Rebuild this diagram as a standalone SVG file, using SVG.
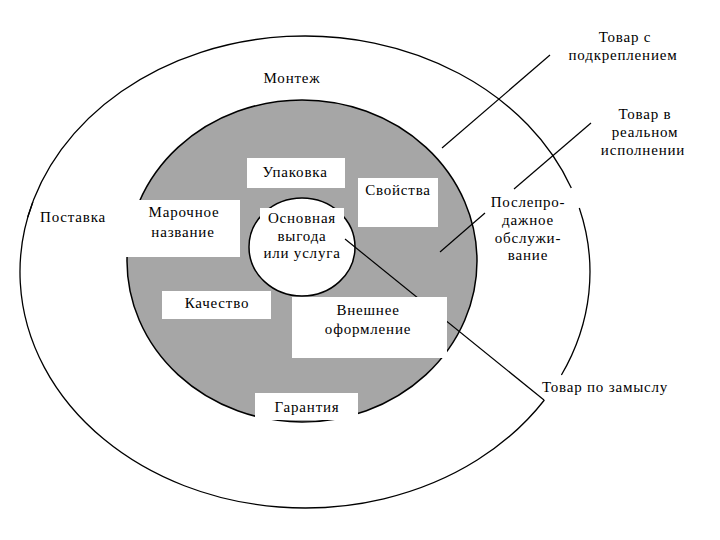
<svg xmlns="http://www.w3.org/2000/svg" width="720" height="540" viewBox="0 0 720 540">
<style>
text{font-family:"Liberation Serif","Times New Roman",serif;font-size:15px;letter-spacing:0.8px;fill:#000;text-anchor:middle}
.ring{fill:none;stroke:#000;stroke-width:1.3}
.box{fill:#fff;stroke:none}
.ln{stroke:#000;stroke-width:1.2;fill:none}
</style>
<rect width="720" height="540" fill="#fff"/>
<g id="outer-ring">
<path class="ring" d="M27.8,217 A285,236 0 0 1 571.3,188"/>
<path class="ring" d="M579.3,208 A285,236 0 0 1 561.4,375"/>
<path class="ring" d="M544.4,400 A285,236 0 0 1 32.8,202"/>
</g>
<g id="actual-product">
<ellipse cx="302" cy="261" rx="175" ry="161" fill="#a6a6a6" stroke="#000" stroke-width="1.5"/>
</g>
<g id="core">
<ellipse cx="302" cy="247" rx="53" ry="49" fill="#fff" stroke="#000" stroke-width="1.5"/>
</g>
<g id="connectors">
<line class="ln" x1="550" y1="55" x2="442" y2="148"/>
<line class="ln" x1="591" y1="123" x2="514" y2="189"/>
<line class="ln" x1="485" y1="213" x2="440" y2="252"/>
<line class="ln" x1="345" y1="239" x2="544" y2="400"/>
</g>
<g id="core-label">
<rect class="box" x="260" y="208" width="84" height="20"/>
<text x="302" y="223">Основная</text>
<text x="302" y="241">выгода</text>
<text x="302" y="258">или услуга</text>
</g>
<g id="upakovka">
<rect class="box" x="247" y="158" width="98" height="30"/>
<text x="295" y="177">Упаковка</text>
</g>
<g id="svoistva">
<rect class="box" x="358" y="178" width="80" height="49"/>
<text x="398" y="195">Свойства</text>
</g>
<g id="marochnoe">
<rect class="box" x="126" y="200" width="114" height="57"/>
<text x="184" y="217">Марочное</text>
<text x="183" y="237">название</text>
</g>
<g id="kachestvo">
<rect class="box" x="162" y="291" width="109" height="28"/>
<text x="217" y="308">Качество</text>
</g>
<g id="vneshnee">
<rect class="box" x="292" y="297" width="155" height="61"/>
<text x="368" y="315">Внешнее</text>
<text x="368" y="334">оформление</text>
</g>
<g id="garantiya">
<rect class="box" x="255" y="393" width="103" height="27"/>
<text x="307" y="412">Гарантия</text>
</g>
<g id="montazh"><text x="292" y="83">Монтеж</text></g>
<g id="postavka"><text x="73" y="222">Поставка</text></g>
<g id="posleprodazhnoe">
<text x="528" y="207">Послепро-</text>
<text x="528" y="225">дажное</text>
<text x="528" y="243">обслужи-</text>
<text x="528" y="260">вание</text>
</g>
<g id="label-podkreplenie">
<text x="625" y="42">Товар с</text>
<text x="623" y="60">подкреплением</text>
</g>
<g id="label-realnom">
<text x="645" y="119">Товар в</text>
<text x="645" y="137">реальном</text>
<text x="643" y="155">исполнении</text>
</g>
<g id="label-zamysel"><text x="605" y="392">Товар по замыслу</text></g>
</svg>
